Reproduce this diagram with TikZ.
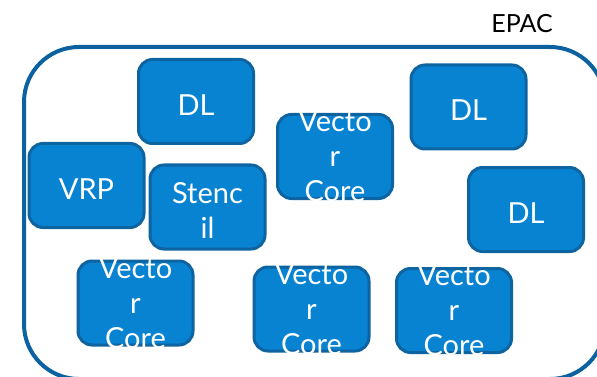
\documentclass[tikz,border=0pt]{standalone}
\usepackage{fontspec}
\setmainfont{Lato}
\definecolor{framecol}{RGB}{12,98,160}
\definecolor{unitfill}{RGB}{8,131,210}
\definecolor{unitline}{RGB}{14,100,160}
\tikzset{
  unit/.style={draw=unitline, fill=unitfill, line width=3pt, rounded corners=14pt,
    minimum width=115pt, minimum height=84pt, inner sep=0pt},
  unittext/.style={text=white, align=center, inner sep=0pt, yshift=-3.5pt,
    font=\fontsize{29}{35}\selectfont},
  tall/.style={yshift=3.5pt},
}
% a unit: the box, then its label clipped to the outer edge of the box
\newcommand{\unitbox}[4][]{%
  \node[unit] (#2) at (#3) {};
  \begin{scope}
    \clip[rounded corners=15.5pt] ([shift={(-1.5pt,-1.5pt)}]#2.south west) rectangle ([shift={(1.5pt,1.5pt)}]#2.north east);
    \node[unittext,#1] (#2-t) at (#2.center) {#4};
  \end{scope}}
\begin{document}
\begin{tikzpicture}[x=1pt,y=-1pt]
  \useasboundingbox (0,0) rectangle (597,377);
  \clip (0,0) rectangle (597,377);
  % enclosing frame
  \draw[framecol, line width=4pt, rounded corners=55pt] (24,47) rectangle (605,379);
  \node[font=\fontsize{25}{30}\selectfont, anchor=base] (epac) at (522,33) {EPAC};
  % units
  \unitbox{dlA}{196,101.5}{DL}
  \unitbox{vrp}{86.5,185.5}{VRP}
  \unitbox{stencil}{207.5,207}{Stenc\\il}
  \unitbox[tall]{vcA}{335,156.5}{Vecto\\r\\Core}
  \unitbox{dlB}{468.5,107}{DL}
  \unitbox{dlC}{526,209.5}{DL}
  \unitbox[tall]{vcB}{135.5,303}{Vecto\\r\\Core}
  \unitbox[tall]{vcC}{311.5,309}{Vecto\\r\\Core}
  \unitbox[tall]{vcD}{454,310.5}{Vecto\\r\\Core}
\end{tikzpicture}
\end{document}
